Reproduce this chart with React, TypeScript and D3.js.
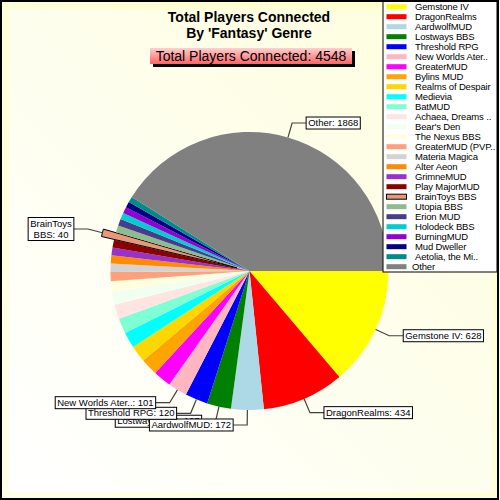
import React, { useEffect, useRef } from 'react';
import * as d3 from 'd3';

const names = [
  'Gemstone IV', 'DragonRealms', 'AardwolfMUD', 'Lostways BBS', 'Threshold RPG',
  'New Worlds Ater..', 'GreaterMUD', 'Bylins MUD', 'Realms of Despair', 'Medievia',
  'BatMUD', 'Achaea, Dreams ..', "Bear's Den", 'The Nexus BBS', 'GreaterMUD (PVP..',
  'Materia Magica', 'Alter Aeon', 'GrimneMUD', 'Play MajorMUD', 'BrainToys BBS',
  'Utopia BBS', 'Erion MUD', 'Holodeck BBS', 'BurningMUD', 'Mud Dweller',
  'Aetolia, the Mi..', 'Other',
];
const values = [
  628, 434, 172, 127, 120, 101, 95, 90, 88, 85, 80, 76, 70, 54, 49, 44, 43, 41, 41, 40,
  38, 36, 34, 33, 31, 30, 1868,
];
const colors = [
  '#ffff00', '#ff0000', '#add8e6', '#008000', '#0000ff', '#ffb6c1', '#ff00ff', '#ffa500',
  '#ffd700', '#00ffff', '#7fffd4', '#ffe4e1', '#f0fff0', '#ffffe0', '#ffa07a', '#d3d3d3',
  '#ff8c00', '#9932cc', '#8b0000', '#e9967a', '#8fbc8f', '#483d8b', '#00ced1', '#9400d3',
  '#000080', '#008b8b', '#808080',
];
const labeledOrder = [3, 0, 1, 2, 4, 5, 19, 26];
const explodedIndex = 19;
const titleLines = ['Total Players Connected', "By 'Fantasy' Genre"];
const subtitle = 'Total Players Connected: ' + d3.sum(values);

const FONT = "'Liberation Sans', Arial, sans-serif";

export default function App() {
  const ref = useRef<SVGSVGElement>(null);

  useEffect(() => {
    const svg = d3.select(ref.current);
    svg.selectAll('*').remove();
    const W = 500, H = 500;
    const defs = svg.append('defs');
    const g1 = defs.append('linearGradient').attr('id', 'outerBg')
      .attr('x1', 0).attr('y1', 1).attr('x2', 1).attr('y2', 0);
    g1.append('stop').attr('offset', 0).attr('stop-color', '#ffffe8');
    g1.append('stop').attr('offset', 1).attr('stop-color', '#ffffc8');
    const g2 = defs.append('linearGradient').attr('id', 'innerBg')
      .attr('x1', 0).attr('y1', 1).attr('x2', 1).attr('y2', 0);
    g2.append('stop').attr('offset', 0).attr('stop-color', '#ffffff');
    g2.append('stop').attr('offset', 1).attr('stop-color', '#fdfddc');
    const g3 = defs.append('linearGradient').attr('id', 'subBg')
      .attr('x1', 0).attr('y1', 0).attr('x2', 0).attr('y2', 1);
    g3.append('stop').attr('offset', 0).attr('stop-color', '#ffd0d0');
    g3.append('stop').attr('offset', 1).attr('stop-color', '#ff6464');

    svg.append('rect').attr('x', 1).attr('y', 1).attr('width', W - 3).attr('height', H - 2)
      .attr('fill', 'url(#outerBg)').attr('stroke', '#000').attr('stroke-width', 2);
    svg.append('rect').attr('x', 9).attr('y', 9).attr('width', 483).attr('height', 483)
      .attr('fill', 'url(#innerBg)');

    // title
    titleLines.forEach((t, i) => {
      svg.append('text').attr('x', 249).attr('y', 22 + i * 15.5).attr('text-anchor', 'middle')
        .attr('font-family', FONT).attr('font-size', 14).attr('font-weight', 'bold').text(t);
    });
    svg.append('rect').attr('x', 153).attr('y', 51).attr('width', 202).attr('height', 16).attr('fill', '#000');
    svg.append('rect').attr('x', 150).attr('y', 48).attr('width', 202).attr('height', 16).attr('fill', 'url(#subBg)');
    svg.append('text').attr('x', 251).attr('y', 61).attr('text-anchor', 'middle')
      .attr('font-family', FONT).attr('font-size', 14).text(subtitle);

    // pie
    const cx = 249.5, cy = 271, r = 139;
    const data = names.map((n, i) => ({ name: n, value: values[i], color: colors[i], i }));
    const pie = d3.pie<any>().sort(null).value((d: any) => d.value)
      .startAngle(Math.PI / 2).endAngle(Math.PI / 2 + 2 * Math.PI);
    const arcs = pie(data);
    const arc = d3.arc<any>().innerRadius(0).outerRadius(r);
    const explode = 13;
    const pg = svg.append('g').attr('transform', `translate(${cx},${cy})`);
    arcs.forEach((a: any) => {
      const mid = (a.startAngle + a.endAngle) / 2;
      const off = a.data.i === explodedIndex ? explode : 0;
      pg.append('path').attr('d', arc(a) as string)
        .attr('transform', `translate(${off * Math.sin(mid)},${-off * Math.cos(mid)})`)
        .attr('fill', a.data.color)
        .attr('stroke', a.data.i === explodedIndex ? '#000' : 'none')
        .attr('stroke-width', 1);
    });

    // labels
    const lg = svg.append('g');
    labeledOrder.forEach((idx) => {
      const a: any = arcs[idx];
      const mid = (a.startAngle + a.endAngle) / 2;
      const off = idx === explodedIndex ? explode : 0;
      const p = (rr: number) => [cx + rr * Math.sin(mid), cy - rr * Math.cos(mid)];
      const [x0, y0] = p(r + off);
      const [x1, y1] = p(r + off + 15);
      const right = Math.sin(mid) >= 0;
      const x2 = x1 + (right ? 14 : -14);
      lg.append('polyline').attr('points', `${x0},${y0} ${x1},${y1} ${x2},${y1}`)
        .attr('fill', 'none').attr('stroke', '#404040').attr('stroke-width', 1.2);
      let lines: string[];
      const nm = a.data.name;
      if (idx === explodedIndex) {
        const k = nm.lastIndexOf(' ');
        lines = [nm.slice(0, k), nm.slice(k + 1) + ': ' + a.data.value];
      } else lines = [nm + ': ' + a.data.value];
      const gg = lg.append('g');
      const rect = gg.append('rect');
      const lh = 11;
      const texts = lines.map((t) => gg.append('text').attr('font-family', FONT).attr('font-size', 9.5)
        .attr('text-anchor', 'middle').text(t));
      const w = (d3.max(texts, (t) => (t.node() as SVGTextElement).getComputedTextLength()) as number) + 4;
      const h = lines.length * lh + 1;
      const bx = right ? x2 : x2 - w;
      const by = y1 - h / 2;
      rect.attr('x', bx).attr('y', by).attr('width', w).attr('height', h)
        .attr('fill', '#fff').attr('stroke', '#000').attr('stroke-width', 1);
      texts.forEach((t, j) => t.attr('x', bx + w / 2).attr('y', by + 9 + j * lh));
    });

    // legend
    const lx = 383, ly = 1.5;
    const leg = svg.append('g');
    leg.append('rect').attr('x', lx).attr('y', ly).attr('width', 114).attr('height', 270.5)
      .attr('fill', '#fff').attr('stroke', '#000').attr('stroke-width', 1);
    data.forEach((d, i) => {
      const yc = 6.7 + i * 10;
      leg.append('rect').attr('x', 386.5).attr('y', yc - 2.5).attr('width', 20).attr('height', 5)
        .attr('fill', d.color)
        .attr('stroke', i === explodedIndex ? '#000' : 'none').attr('stroke-width', 1);
      leg.append('text').attr('x', i === data.length - 1 ? 412 : 415).attr('y', yc + 3.5)
        .attr('font-family', FONT).attr('font-size', 9.5).attr('letter-spacing', -0.15)
        .text(d.name);
    });
  }, []);

  return (
    <svg ref={ref} width={500} height={500}
      style={{ position: 'absolute', left: 0, top: 0, display: 'block' }} />
  );
}
